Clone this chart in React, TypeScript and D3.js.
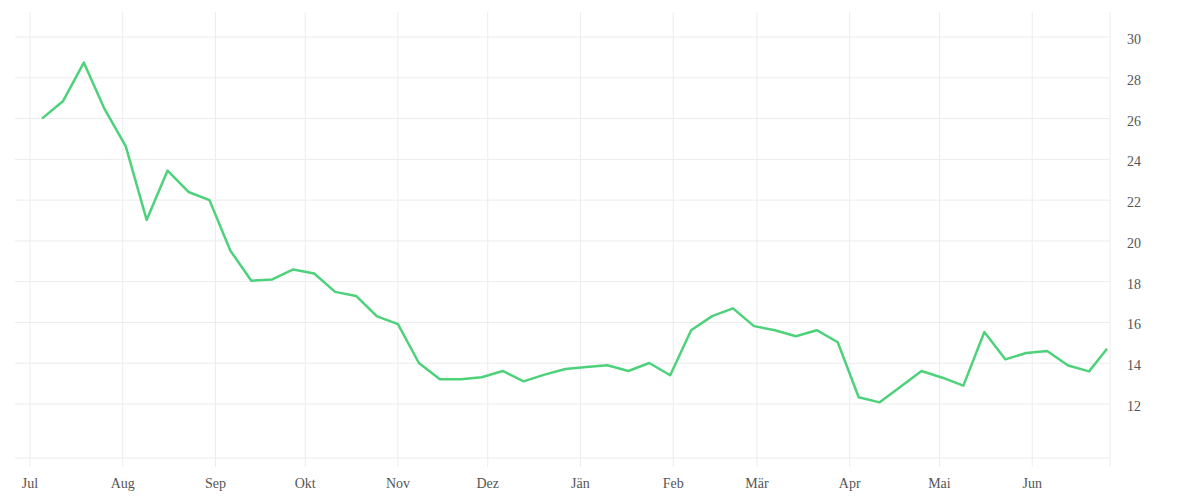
import React from "react";
import * as d3 from "d3";

const dates: string[] = [
  "2018-07-05", "2018-07-12", "2018-07-19", "2018-07-26",
  "2018-08-02", "2018-08-09", "2018-08-16", "2018-08-23", "2018-08-30",
  "2018-09-06", "2018-09-13", "2018-09-20", "2018-09-27",
  "2018-10-04", "2018-10-11", "2018-10-18", "2018-10-25",
  "2018-11-01", "2018-11-08", "2018-11-15", "2018-11-22", "2018-11-29",
  "2018-12-06", "2018-12-13", "2018-12-20", "2018-12-27",
  "2019-01-03", "2019-01-10", "2019-01-17", "2019-01-24", "2019-01-31",
  "2019-02-07", "2019-02-14", "2019-02-21", "2019-02-28",
  "2019-03-07", "2019-03-14", "2019-03-21", "2019-03-28",
  "2019-04-04", "2019-04-11", "2019-04-18", "2019-04-25",
  "2019-05-02", "2019-05-09", "2019-05-16", "2019-05-23", "2019-05-30",
  "2019-06-06", "2019-06-13", "2019-06-20", "2019-06-26",
];

const values: number[] = [
  26.0, 26.85, 28.75, 26.45,
  24.65, 21.03, 23.45, 22.4, 22.0,
  19.52, 18.05, 18.11, 18.6,
  18.4, 17.5, 17.3, 16.3,
  15.92, 14.01, 13.21, 13.21, 13.31,
  13.62, 13.11, 13.44, 13.72,
  13.82, 13.9, 13.62, 14.01, 13.41,
  15.62, 16.31, 16.69, 15.82,
  15.62, 15.32, 15.62, 15.03,
  12.33, 12.08, 12.85, 13.62,
  13.29, 12.9, 15.53, 14.19, 14.5,
  14.6, 13.89, 13.6, 14.71,
];

const monthLabels: string[] = ["Jul", "Aug", "Sep", "Okt", "Nov", "Dez", "Jän", "Feb", "Mär", "Apr", "Mai", "Jun"];
const yTicks: number[] = [12, 14, 16, 18, 20, 22, 24, 26, 28, 30];
const xDomain: string[] = ["2018-06-26", "2019-06-27"];
const yDomain: number[] = [9.35, 31.23];

const W = 1200;
const H = 500;
const left = 15;
const right = 1110;
const top = 12;
const bottom = 458;

export default function App() {
  const parse = d3.timeParse("%Y-%m-%d");
  const data = dates.map((d, i) => ({ date: parse(d) as Date, value: values[i] }));
  const x = d3
    .scaleTime()
    .domain([parse(xDomain[0]) as Date, parse(xDomain[1]) as Date])
    .range([left, right]);
  const y = d3.scaleLinear().domain(yDomain).range([bottom, top]);
  const monthTicks = d3.timeMonth.range(parse("2018-07-01") as Date, parse("2019-06-02") as Date);
  const line = d3
    .line<{ date: Date; value: number }>()
    .x((d) => x(d.date))
    .y((d) => y(d.value));
  const grid = "#ececec";
  const textColor = "#555";
  const font = "'Liberation Serif', serif";

  return (
    <svg
      width={W}
      height={H}
      style={{ position: "absolute", left: 0, top: 0, background: "#fff" }}
    >
      {yTicks.map((t) => (
        <line key={"h" + t} x1={left} x2={right} y1={y(t)} y2={y(t)} stroke={grid} strokeWidth={1} />
      ))}
      <line x1={left} x2={right} y1={bottom} y2={bottom} stroke={grid} strokeWidth={1} />
      {monthTicks.map((m, i) => (
        <line key={"v" + i} x1={x(m)} x2={x(m)} y1={top} y2={bottom + 9} stroke={grid} strokeWidth={1} />
      ))}
      <line x1={right} x2={right} y1={top} y2={bottom + 9} stroke={grid} strokeWidth={1} />
      {monthTicks.map((m, i) => (
        <text
          key={"mt" + i}
          x={x(m)}
          y={488}
          textAnchor="middle"
          fontFamily={font}
          fontSize={14}
          fill={textColor}
        >
          {monthLabels[i]}
        </text>
      ))}
      {yTicks.map((t) => (
        <text
          key={"yt" + t}
          x={1127}
          y={y(t) + 7}
          textAnchor="start"
          fontFamily={font}
          fontSize={14}
          fill={textColor}
        >
          {t}
        </text>
      ))}
      <path
        d={line(data) || ""}
        fill="none"
        stroke="#4dd27b"
        strokeWidth={2.5}
        strokeLinejoin="round"
      />
    </svg>
  );
}
